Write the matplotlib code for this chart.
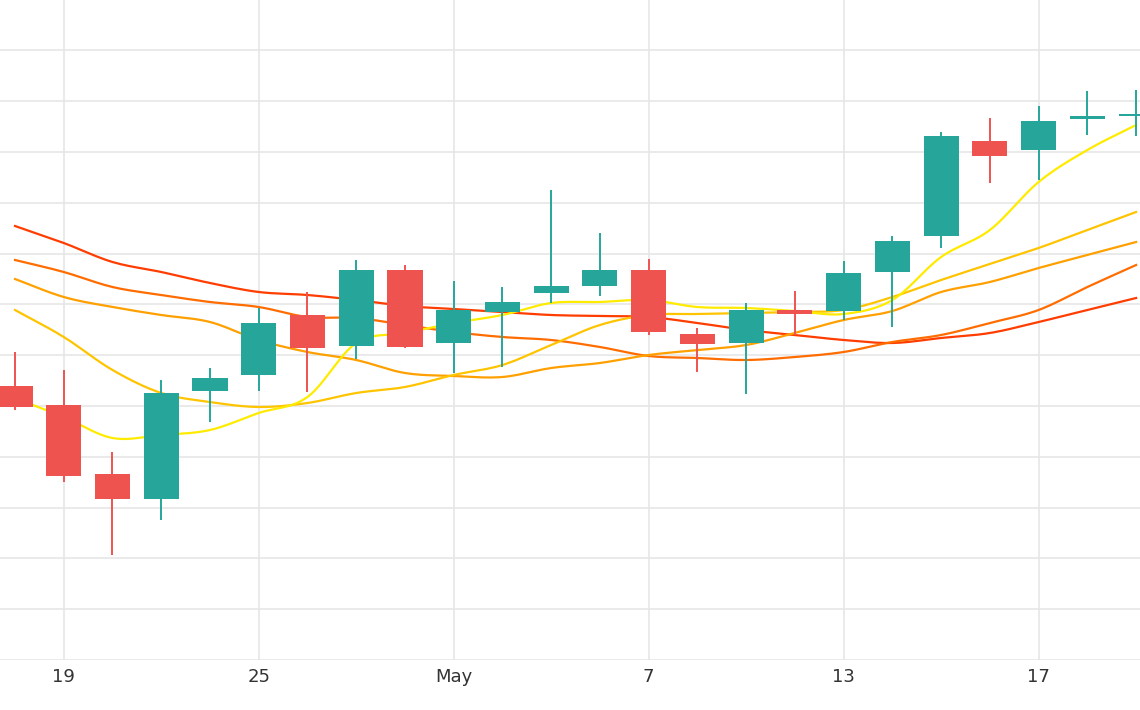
import numpy as np
import matplotlib
matplotlib.use('Agg')
import matplotlib.pyplot as plt

# daily candles, Apr 18 .. May 21 (trading days)
opens = [161.4, 159.5, 152.6, 150.1, 160.9, 162.5, 168.5, 165.4, 173.0, 165.7, 168.8, 170.7,
         171.4, 173.0, 166.6, 165.7, 169.0, 168.9, 172.8, 176.4, 185.9, 185.0, 188.1, 188.4]
highs = [164.8, 163.0, 154.8, 162.0, 163.2, 169.2, 170.8, 174.0, 173.5, 171.9, 171.3, 181.0,
         176.7, 174.1, 167.2, 169.7, 170.9, 173.9, 176.4, 186.8, 188.2, 189.4, 190.9, 191.0]
lows = [159.0, 151.8, 144.5, 148.0, 157.8, 160.9, 160.8, 164.1, 165.2, 162.7, 163.3, 169.7,
        170.4, 166.5, 162.8, 160.6, 166.5, 168.0, 167.3, 175.2, 181.7, 182.0, 186.5, 186.4]
closes = [159.3, 152.4, 150.1, 160.7, 162.2, 167.7, 165.2, 173.0, 165.3, 169.0, 169.8, 171.4,
          173.0, 166.8, 165.6, 169.0, 168.6, 172.7, 175.9, 186.4, 184.4, 187.9, 188.4, 188.6]

ma_yellow = [160.2, 158.3, 156.2, 156.5, 157.0, 158.7, 160.3, 165.7, 166.7, 167.7, 168.5, 169.7,
             169.8, 170.0, 169.3, 169.2, 168.9, 168.6, 170.0, 174.3, 177.0, 181.8, 185.0, 187.5]
ma_gold = [169.0, 166.3, 163.0, 160.7, 159.8, 159.3, 159.7, 160.7, 161.3, 162.5, 163.5, 165.5,
           167.5, 168.5, 168.6, 168.7, 168.8, 169.0, 170.3, 172.0, 173.6, 175.2, 177.0, 178.8]
ma_orange = [172.1, 170.3, 169.3, 168.5, 167.8, 166.0, 164.8, 164.0, 162.7, 162.4, 162.3, 163.2,
             163.7, 164.5, 165.0, 165.5, 166.7, 168.0, 168.9, 170.8, 171.8, 173.2, 174.5, 175.8]
ma_dkorange = [174.0, 172.8, 171.3, 170.5, 169.8, 169.3, 168.3, 168.2, 167.5, 166.8, 166.3, 166.0,
               165.3, 164.4, 164.2, 164.0, 164.3, 164.8, 165.8, 166.5, 167.7, 169.0, 171.3, 173.5]
ma_red = [177.4, 175.7, 173.8, 172.8, 171.7, 170.8, 170.5, 170.0, 169.4, 169.1, 168.8, 168.5,
          168.4, 168.3, 167.7, 167.0, 166.5, 166.0, 165.7, 166.2, 166.7, 167.8, 169.0, 170.2]

tick_idx = [1, 5, 9, 13, 17, 21]
tick_labels = ["19", "25", "May", "7", "13", "17"]

UP = '#26A69A'
DOWN = '#EF5350'


def smooth(xs, ys, n=12):
    # catmull-rom through the points, only for drawing
    xs = np.asarray(xs, float); ys = np.asarray(ys, float)
    px = np.concatenate([[2*xs[0]-xs[1]], xs, [2*xs[-1]-xs[-2]]])
    py = np.concatenate([[2*ys[0]-ys[1]], ys, [2*ys[-1]-ys[-2]]])
    ox, oy = [], []
    t = np.linspace(0, 1, n, endpoint=False)
    for i in range(1, len(px)-2):
        for arr, out in ((px, ox), (py, oy)):
            p0, p1, p2, p3 = arr[i-1:i+3]
            out.extend(0.5*((2*p1) + (-p0+p2)*t + (2*p0-5*p1+4*p2-p3)*t**2 + (-p0+3*p1-3*p2+p3)*t**3))
    ox.append(xs[-1]); oy.append(ys[-1])
    return ox, oy


fig = plt.figure(figsize=(11.4, 7.1), dpi=100)
ax = fig.add_axes([0, 50/710, 1, 660/710])

x = np.arange(len(opens))
for m, c in [(ma_red, '#FF3D00'), (ma_dkorange, '#FF6D00'), (ma_orange, '#FFA000'),
             (ma_gold, '#FFC400'), (ma_yellow, '#FFEB00')]:
    sx, sy = smooth(x, m)
    ax.plot(sx, sy, color=c, lw=1.6, zorder=2)

w = 0.72
for i in range(len(opens)):
    o, h, l, c = opens[i], highs[i], lows[i], closes[i]
    col = UP if c >= o else DOWN
    ax.vlines(i, l, h, color=col, lw=1.4, zorder=3)
    lo, hi = min(o, c), max(o, c)
    ax.bar(i, max(hi - lo, 0.2), bottom=lo, width=w, color=col, zorder=4)

ax.set_xlim(-0.308, 23.08)
ax.set_ylim(134, 200)
ax.set_yticks([134 + 5.08*k for k in range(13)])
ax.set_yticklabels([])
ax.set_xticks(tick_idx)
ax.set_xticklabels(tick_labels, fontsize=13, color='#333333')
ax.tick_params(length=0, pad=6)
ax.grid(True, color='#e6e6e6', lw=1.2, zorder=0)
ax.set_axisbelow(True)
for s in ax.spines.values():
    s.set_visible(False)

fig.savefig('out.png', dpi=100)
